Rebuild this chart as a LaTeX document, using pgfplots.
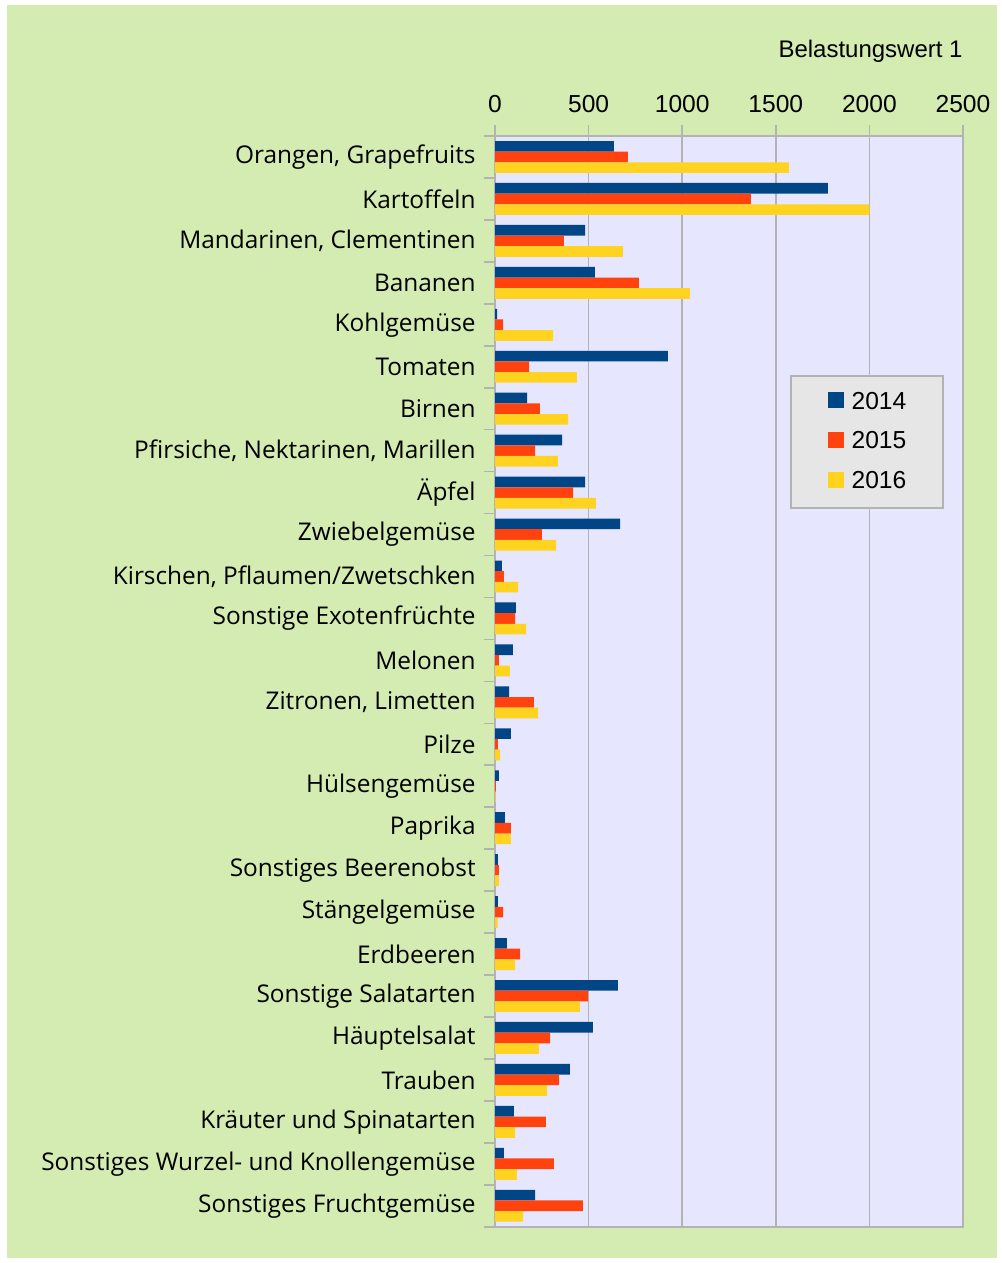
\documentclass[border=0pt]{standalone}
\usepackage{fontspec}
\setmainfont{Liberation Sans}
\newfontfamily\catfont{Open Sans}
\usepackage{pgfplots}
\usepackage{pgfplotstable}
\pgfplotsset{compat=1.18}
\definecolor{bgG}{HTML}{D4EBB2}
\definecolor{plotbg}{HTML}{E6E6FF}
\definecolor{gridc}{HTML}{B3B3B3}
\definecolor{legbg}{HTML}{E6E6E6}
\definecolor{cA}{HTML}{004586}
\definecolor{cB}{HTML}{FF420E}
\definecolor{cC}{HTML}{FFD320}

\pgfplotstableread{
idx a b c
0 635 710 1570
1 1778 1367 2000
2 481 368 683
3 534 769 1041
4 11 43 310
5 924 182 438
6 171 240 390
7 358 214 336
8 481 417 539
9 668 251 326
10 37 48 123
11 112 107 166
12 96 21 80
13 75 208 230
14 85 16 27
15 21 5 3
16 53 85 85
17 16 21 21
18 16 43 14
19 64 134 107
20 657 497 454
21 523 294 235
22 400 342 278
23 101 272 107
24 48 315 117
25 214 470 150
}\data

\begin{document}
\begin{tikzpicture}[x=1pt,y=1pt]
\fill[white] (0,0) rectangle (500.5,-631.5);
\fill[bgG] (3.5,-2.5) rectangle (498.5,-629);
\node[anchor=base east, inner sep=0pt, font=\fontsize{12}{14}\selectfont] at (481.5,-29) {Belastungswert 1};
\begin{axis}[
  at={(247.5pt,-613.35pt)}, anchor=south west,
  scale only axis, width=234pt, height=545.35pt,
  xmin=0, xmax=2500, ymin=-0.5, ymax=25.5, y dir=reverse,
  axis background/.style={fill=plotbg},
  axis line style={draw=gridc, line width=0.8pt},
  xtick={0,500,...,2500},
  xtick pos=upper, xticklabel pos=upper,
  ytick pos=lower,
  tick align=outside,
  major tick length=5.5pt,
  every tick/.style={draw=gridc, line width=0.8pt},
  xmajorgrids, grid style={draw=gridc, line width=0.8pt},
  ymajorgrids=false,
  /pgf/number format/assume math mode=true,
  /pgf/number format/1000 sep={},
  xticklabel style={font=\fontsize{12.3}{14}\selectfont, inner sep=0pt, yshift=6pt},
  ytick={-0.5,0.5,...,25.5}, yticklabels={},
  extra y ticks={0,1,...,25},
  extra y tick style={major tick length=0pt, tick style={draw=none}},
  extra y tick labels={{Orangen, Grapefruits},Kartoffeln,{Mandarinen, Clementinen},Bananen,Kohlgemüse,Tomaten,Birnen,{Pfirsiche, Nektarinen, Marillen},Äpfel,Zwiebelgemüse,{Kirschen, Pflaumen/Zwetschken},Sonstige Exotenfrüchte,Melonen,{Zitronen, Limetten},Pilze,Hülsengemüse,Paprika,Sonstiges Beerenobst,Stängelgemüse,Erdbeeren,Sonstige Salatarten,Häuptelsalat,Trauben,Kräuter und Spinatarten,Sonstiges Wurzel- und Knollengemüse,Sonstiges Fruchtgemüse},
  yticklabel style={font=\catfont\fontsize{12.2}{14}\selectfont, inner sep=0pt, xshift=-9.5pt},
  xbar, bar width=0.254, bar shift=0pt,
  legend style={at={(0.6303,0.7809)}, anchor=north west, fill=legbg, draw=gridc, line width=0.8pt,
    font=\fontsize{12.3}{14}\selectfont, inner xsep=18.4pt, inner ysep=8.1pt, row sep=9.8pt,
    nodes={inner sep=0pt},
    /tikz/every odd column/.append style={column sep=4pt}},
  legend cell align=left,
  legend image code/.code={\path[#1] (0pt,-3.1pt) rectangle (8pt,4.9pt);},
]
\addplot[fill=cA, draw=none] table[x=a, y expr=\thisrow{idx}-0.254] {\data};
\addplot[fill=cB, draw=none] table[x=b, y expr=\thisrow{idx}] {\data};
\addplot[fill=cC, draw=none] table[x=c, y expr=\thisrow{idx}+0.254] {\data};
\legend{2014,2015,2016}
\end{axis}
\end{tikzpicture}
\end{document}
